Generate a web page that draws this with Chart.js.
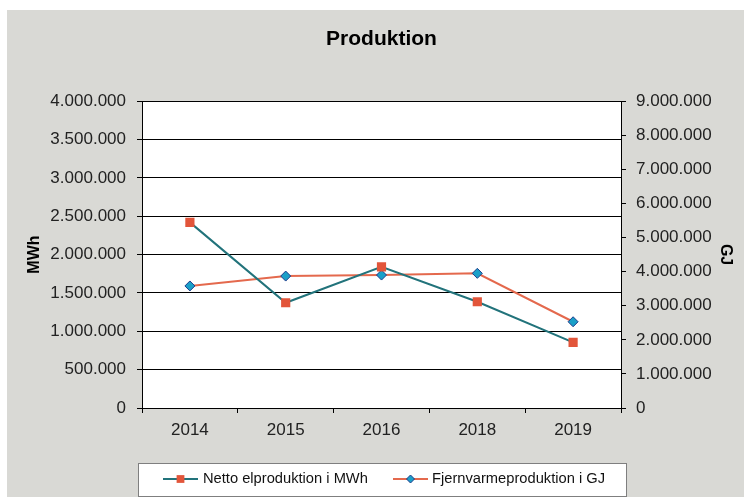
<!DOCTYPE html>
<html>
<head>
<meta charset="utf-8">
<script src="https://cdn.jsdelivr.net/npm/chart.js@4.4.1/dist/chart.umd.min.js"></script>
<style>
  html, body { margin: 0; padding: 0; background: #fff; }
  #wrap { position: relative; width: 744px; height: 497px; }
</style>
</head>
<body>
<div id="wrap"><canvas id="chart"></canvas></div>
<script>
// Data
const years = ['2014', '2015', '2016', '2018', '2019'];
const elMWh = [2420000, 1372000, 1840000, 1385000, 856000];
const fjernvarmeGJ = [3580000, 3870000, 3900000, 3950000, 2530000];
const seriesNames = ['Netto elproduktion i MWh', 'Fjernvarmeproduktion i GJ'];

const FONT = 'Liberation Sans, Arial, sans-serif';

// thousands separator with dots
function fmt(v) {
    return String(v).replace(/\B(?=(\d{3})+(?!\d))/g, '.');
}

// gray panel behind everything
const panelBg = {
    id: 'panelBg',
    beforeDraw(chart) {
        const ctx = chart.ctx;
        ctx.save();
        ctx.fillStyle = '#ffffff';
        ctx.fillRect(0, 0, chart.width, chart.height);
        ctx.fillStyle = '#d9d9d5';
        ctx.fillRect(7, 10, chart.width - 7, chart.height - 10);
        const a = chart.chartArea;
        ctx.fillStyle = '#ffffff';
        ctx.fillRect(a.left, a.top, a.right - a.left, a.bottom - a.top);
        ctx.restore();
    }
};

// legend in a box at the bottom
const boxLegend = {
    id: 'boxLegend',
    afterDraw(chart) {
        const ctx = chart.ctx;
        ctx.save();
        ctx.fillStyle = '#ffffff';
        ctx.fillRect(138, 463, 488, 33);
        ctx.strokeStyle = '#7f7f7f';
        ctx.lineWidth = 1;
        ctx.strokeRect(138.5, 463.5, 488, 33);

        const items = [{ x: 163, tx: 203 }, { x: 393, tx: 432 }];
        const y = 479;
        chart.data.datasets.forEach((ds, i) => {
            const it = items[i];
            ctx.strokeStyle = ds.borderColor;
            ctx.lineWidth = 2;
            ctx.beginPath();
            ctx.moveTo(it.x, y);
            ctx.lineTo(it.x + 35, y);
            ctx.stroke();
            ctx.fillStyle = ds.pointBackgroundColor;
            ctx.strokeStyle = ds.pointBorderColor;
            ctx.lineWidth = ds.pointBorderWidth;
            Chart.helpers.drawPoint(ctx, {
                pointStyle: ds.pointStyle,
                radius: i === 0 ? 5.5 : 4,
                rotation: 0,
                borderWidth: ds.pointBorderWidth
            }, it.x + 17.5, y);
            ctx.fillStyle = '#111';
            ctx.font = '14.7px ' + FONT;
            ctx.textBaseline = 'middle';
            ctx.fillText(ds.label, it.tx, y);
        });
        ctx.restore();
    }
};

const ctx = document.getElementById('chart').getContext('2d');
new Chart(ctx, {
    type: 'line',
    data: {
        labels: years,
        datasets: [{
            label: seriesNames[0],
            data: elMWh,
            yAxisID: 'y',
            borderColor: '#22737b',
            borderWidth: 2,
            pointStyle: 'rect',
            pointRadius: 6.5,
            pointBackgroundColor: '#e2553a',
            pointBorderColor: '#e2553a',
            pointBorderWidth: 0,
            tension: 0
        }, {
            label: seriesNames[1],
            data: fjernvarmeGJ,
            yAxisID: 'y1',
            borderColor: '#e4694d',
            borderWidth: 2,
            pointStyle: 'rectRot',
            pointRadius: 5,
            pointBackgroundColor: '#1aa0c8',
            pointBorderColor: '#1d3c8c',
            pointBorderWidth: 1,
            tension: 0
        }]
    },
    options: {
        responsive: true,
        maintainAspectRatio: false,
        animation: false,
        layout: { padding: 0 },
        plugins: {
            legend: { display: false },
            tooltip: { enabled: false },
            title: {
                display: true,
                fullSize: false,
                text: 'Produktion',
                color: '#000',
                font: { family: FONT, size: 21, weight: 'bold' },
                padding: { top: 27, bottom: 49 }
            }
        },
        scales: {
            x: {
                offset: true,
                grid: {
                    offset: true,
                    drawOnChartArea: false,
                    drawTicks: true,
                    tickLength: 5,
                    color: '#000'
                },
                border: { color: '#000', width: 1 },
                ticks: {
                    color: '#222',
                    padding: 7,
                    maxRotation: 0,
                    font: { family: FONT, size: 17 }
                },
                afterFit(scale) { scale.height = 89; }
            },
            y: {
                position: 'left',
                min: 0,
                max: 4000000,
                grid: {
                    color: '#000',
                    lineWidth: 1,
                    tickLength: 5
                },
                border: { color: '#000', width: 1 },
                ticks: {
                    stepSize: 500000,
                    color: '#222',
                    padding: 11,
                    font: { family: FONT, size: 17 },
                    callback: v => fmt(v)
                },
                title: {
                    display: true,
                    text: 'MWh',
                    color: '#000',
                    font: { family: FONT, size: 16, weight: 'bold' },
                    padding: { top: 25, bottom: 0 }
                },
                afterFit(scale) { scale.width = 142; }
            },
            y1: {
                position: 'right',
                min: 0,
                max: 9000000,
                grid: {
                    drawOnChartArea: false,
                    color: '#000',
                    tickLength: 5
                },
                border: { color: '#000', width: 1 },
                ticks: {
                    stepSize: 1000000,
                    color: '#222',
                    padding: 10,
                    font: { family: FONT, size: 17 },
                    callback: v => fmt(v)
                },
                title: {
                    display: true,
                    text: 'GJ',
                    color: '#000',
                    font: { family: FONT, size: 16, weight: 'bold' },
                    padding: { top: 9, bottom: 0 }
                },
                afterFit(scale) { scale.width = 123; }
            }
        }
    },
    plugins: [panelBg, boxLegend]
});
</script>
</body>
</html>
